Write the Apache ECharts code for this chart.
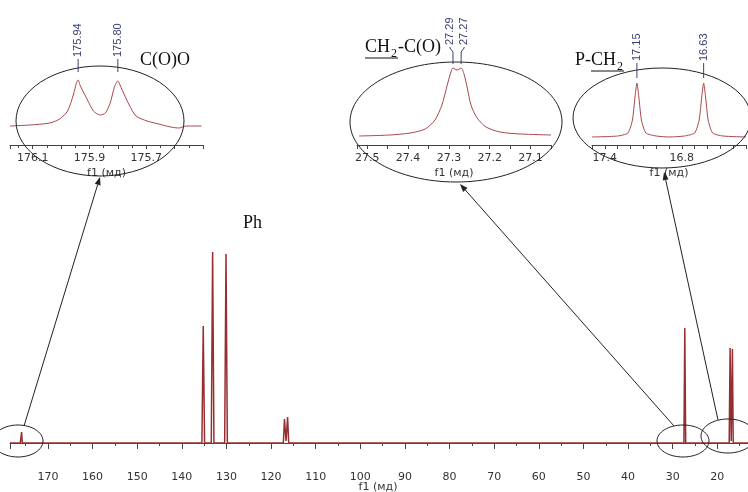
<!DOCTYPE html>
<html>
<head>
<meta charset="utf-8">
<script src="https://cdn.jsdelivr.net/npm/echarts@6/dist/echarts.min.js"></script>
<style>
html, body { margin: 0; padding: 0; background: #fff; }
#main { width: 748px; height: 492px; }
</style>
</head>
<body>
<div id="main"></div>
<script>
// full 13C spectrum (ppm, intensity)
var mainPpm = [178.5, 176.2, 176.05, 175.9, 175.75, 135.5, 135.2, 134.9, 133.4, 133.1, 132.8, 130.4, 130.1, 129.8,
  117.25, 117.0, 116.65, 116.3, 116.05, 27.5, 27.3, 27.1, 17.35, 17.15, 16.9, 16.63, 16.45, 10];
var mainInt = [0, 0, 0, 5.5, 0, 0, 58.5, 0, 0, 95.5, 0, 0, 94.5, 0,
  0, 12, 1, 13, 0, 0, 57.5, 0, 0, 47.5, 1, 47, 0, 0];
var mainTicks = [170, 160, 150, 140, 130, 120, 110, 100, 90, 80, 70, 60, 50, 40, 30, 20];

// inset C(O)O
var c1Ppm = [176.18, 176.11, 176.04, 176.005, 175.977, 175.956, 175.946, 175.94, 175.932, 175.907, 175.886, 175.862, 175.844,
  175.827, 175.812, 175.80, 175.788, 175.76, 175.736, 175.697, 175.656, 175.614, 175.586, 175.558, 175.505];
var c1Int = [19, 20, 22, 26, 34, 51, 62, 65, 59, 45, 34, 30, 32, 42, 58, 64, 57, 40, 29, 24, 21, 18, 17, 19, 19];
var c1Peaks = [175.94, 175.80];
var c1Ticks = [176.1, 175.9, 175.7];

// inset CH2-C(O)
var c2Ppm = [27.52, 27.444, 27.395, 27.358, 27.334, 27.317, 27.304, 27.295, 27.29, 27.28, 27.27, 27.263, 27.255, 27.246,
  27.231, 27.209, 27.175, 27.125, 27.05];
var c2Int = [9, 10, 12, 16, 25, 40, 60, 73, 77, 75, 77, 71, 57, 40, 27, 18, 13, 11, 10];
var c2Peaks = [27.29, 27.27];
var c2Ticks = [27.5, 27.4, 27.3, 27.2, 27.1];

// inset P-CH2
var c3Ppm = [17.5, 17.3, 17.22, 17.185, 17.165, 17.15, 17.135, 17.115, 17.08, 17.0, 16.9, 16.78, 16.7, 16.665, 16.645,
  16.63, 16.615, 16.595, 16.56, 16.48, 16.3];
var c3Int = [8, 9, 12, 25, 48, 62, 48, 25, 12, 9, 8, 9, 12, 25, 48, 62, 48, 25, 12, 9, 8];
var c3Peaks = [17.15, 16.63];
var c3Ticks = [17.4, 16.8];

function pairs(xs, ys) {
  var out = [];
  for (var i = 0; i < xs.length; i++) {
    out.push([xs[i], ys[i]]);
  }
  return out;
}

function tickFmt(list, digits) {
  return function (v) {
    for (var i = 0; i < list.length; i++) {
      if (Math.abs(v - list[i]) < 1e-6) return list[i].toFixed(digits);
    }
    return '';
  };
}

var chart = echarts.init(document.getElementById('main'), null, { renderer: 'canvas' });

var axisCol = '#444';
var lblStyle = { color: '#333', fontFamily: 'DejaVu Sans', fontSize: 11 };

function insetAxis(idx, min, max, interval, ticks, digits, minorSplit) {
  return {
    type: 'value', gridIndex: idx, inverse: true, min: min, max: max, interval: interval,
    name: 'f1 (мд)', nameLocation: 'middle', nameGap: 23,
    nameTextStyle: { color: '#333', fontFamily: 'DejaVu Sans', fontSize: 11 },
    axisLine: { lineStyle: { color: axisCol, width: 1 } },
    axisTick: { show: true, inside: false, length: 4, lineStyle: { color: axisCol } },
    minorTick: { show: minorSplit > 1, splitNumber: minorSplit, length: 3, lineStyle: { color: axisCol } },
    axisLabel: { margin: 8, formatter: tickFmt(ticks, digits), color: lblStyle.color, fontFamily: lblStyle.fontFamily, fontSize: lblStyle.fontSize },
    splitLine: { show: false }
  };
}

function hiddenY(idx, min, max) {
  return { type: 'value', gridIndex: idx, min: min, max: max, show: false, splitLine: { show: false } };
}

var option = {
  animation: false,
  backgroundColor: '#fff',
  grid: [
    { left: 10, width: 752, top: 243, height: 210, outerBoundsMode: 'none' },
    { left: 10, width: 193, top: 70, height: 75, outerBoundsMode: 'none' },
    { left: 357, width: 194, top: 60, height: 85, outerBoundsMode: 'none' },
    { left: 592, width: 154, top: 70, height: 75, outerBoundsMode: 'none' }
  ],
  xAxis: [
    {
      type: 'value', gridIndex: 0, inverse: true, min: 10, max: 178.5, interval: 10, offset: 8,
      axisLine: { lineStyle: { color: axisCol, width: 1 } },
      axisTick: { show: true, inside: false, length: 6, lineStyle: { color: axisCol } },
      minorTick: { show: true, splitNumber: 2, length: 3, lineStyle: { color: axisCol } },
      axisLabel: {
        margin: 11, color: '#333', fontFamily: 'DejaVu Sans', fontSize: 11,
        formatter: function (v) { return mainTicks.indexOf(v) >= 0 ? String(v) : ''; }
      },
      splitLine: { show: false }
    },
    insetAxis(1, 175.5, 176.18, 0.1, c1Ticks, 1, 2),
    insetAxis(2, 27.05, 27.525, 0.05, c2Ticks, 1, 0),
    insetAxis(3, 16.3, 17.5, 0.1, c3Ticks, 1, 0)
  ],
  yAxis: [hiddenY(0, -5, 100), hiddenY(1, 0, 75), hiddenY(2, 0, 85), hiddenY(3, 0, 75)],
  series: [
    {
      type: 'line', xAxisIndex: 0, yAxisIndex: 0, data: pairs(mainPpm, mainInt),
      showSymbol: false, clip: true,
      lineStyle: { color: '#962f31', width: 1.5 }
    },
    {
      type: 'line', xAxisIndex: 1, yAxisIndex: 1, data: pairs(c1Ppm, c1Int),
      showSymbol: false, smooth: 0.25,
      lineStyle: { color: '#a8484c', width: 1 }
    },
    {
      type: 'line', xAxisIndex: 2, yAxisIndex: 2, data: pairs(c2Ppm, c2Int),
      showSymbol: false, smooth: 0.25,
      lineStyle: { color: '#a8484c', width: 1 }
    },
    {
      type: 'line', xAxisIndex: 3, yAxisIndex: 3, data: pairs(c3Ppm, c3Int),
      showSymbol: false, smooth: 0.2,
      lineStyle: { color: '#a8484c', width: 1 }
    }
  ]
};
chart.setOption(option);

// ---------- annotations ----------
var ink = '#222';
var peakCol = '#3b3f73';
var serif = 'Liberation Serif';
var g = [];

function ell(cx, cy, rx, ry) {
  g.push({ type: 'ellipse', shape: { cx: cx, cy: cy, rx: rx, ry: ry }, style: { fill: 'none', stroke: ink, lineWidth: 1 }, z: 50 });
}

function arrow(x1, y1, x2, y2) {
  var a = Math.atan2(y2 - y1, x2 - x1);
  var L = 8, W = 3;
  var bx = x2 - L * Math.cos(a), by = y2 - L * Math.sin(a);
  g.push({ type: 'line', shape: { x1: x1, y1: y1, x2: bx, y2: by }, style: { stroke: ink, lineWidth: 1 }, z: 50 });
  g.push({
    type: 'polygon', z: 50,
    shape: { points: [[x2, y2], [bx + W * Math.sin(a), by - W * Math.cos(a)], [bx - W * Math.sin(a), by + W * Math.cos(a)]] },
    style: { fill: ink }
  });
}

function txt(x, y, s, size, align) {
  g.push({
    type: 'text', x: x, y: y, z: 60,
    style: { text: s, fontFamily: serif, fontSize: size, fill: '#111', align: align || 'left', verticalAlign: 'middle' }
  });
}

function uline(x1, x2, y) {
  g.push({ type: 'line', shape: { x1: x1, y1: y, x2: x2, y2: y }, style: { stroke: '#111', lineWidth: 1 }, z: 60 });
}

function peakLabel(axisIdx, ppm, lblDx, yBottom, yLeadTop, yLeadBottom) {
  var px = chart.convertToPixel({ xAxisIndex: axisIdx }, ppm);
  var lx = px + lblDx;
  g.push({
    type: 'text', x: lx, y: yBottom, rotation: Math.PI / 2, z: 60,
    style: { text: ppm.toFixed(2), fontFamily: 'Liberation Sans', fontSize: 11, fill: peakCol, align: 'left', verticalAlign: 'middle' }
  });
  g.push({
    type: 'polyline', z: 60,
    shape: { points: [[lx, yBottom + 2], [lx, yLeadTop], [px, yLeadTop + 4], [px, yLeadBottom]] },
    style: { stroke: peakCol, lineWidth: 1, fill: 'none' }
  });
}

// inset frames
ell(100, 121, 84, 55);
ell(456, 122, 106, 60);
ell(662, 118, 89, 50);

// regions on the full spectrum
ell(18, 441, 25, 16);
ell(683, 441, 26, 16);
ell(728, 436, 27, 17);

// arrows to the insets
arrow(24, 426, 100, 177);
arrow(674, 426, 460, 184);
arrow(718, 420, 664, 172);

// peak labels
c1Peaks.forEach(function (p) { peakLabel(1, p, 0, 57, 60, 72); });
peakLabel(2, c2Peaks[0], -3, 45, 48, 64);
peakLabel(2, c2Peaks[1], 3, 45, 48, 64);
c3Peaks.forEach(function (p) { peakLabel(3, p, 0, 61, 64, 78); });

// group labels
txt(140, 60, 'C(O)O', 18);
txt(365, 47, 'CH', 18);
txt(391, 54, '2', 12);
txt(398, 47, '-C(O)', 18);
uline(365, 398, 58);
txt(575, 60, 'P-', 18);
txt(591, 60, 'CH', 18);
txt(617, 67, '2', 12);
uline(591, 624, 71);
txt(243, 223, 'Ph', 18);

// main axis title
g.push({
  type: 'text', x: 378, y: 487, z: 60,
  style: { text: 'f1 (мд)', fontFamily: 'DejaVu Sans', fontSize: 11, fill: '#333', align: 'center', verticalAlign: 'middle' }
});

chart.setOption({ graphic: g });
</script>
</body>
</html>
